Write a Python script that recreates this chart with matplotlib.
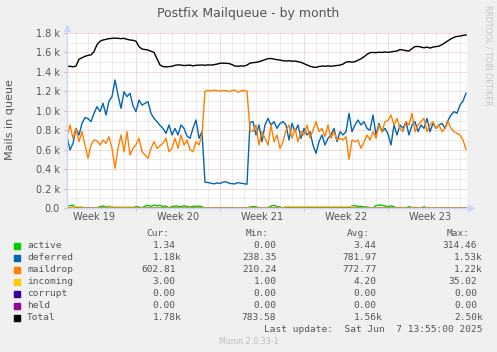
import numpy as np
import matplotlib.pyplot as plt
from matplotlib.patches import Rectangle

# =========================================================
# DATA  (one reading every 6 hours, month view)
# =========================================================

deferred = [
    734, 597, 665, 819, 751, 871, 930, 920, 888, 974,
    1042, 991, 1077, 957, 1100, 1145, 1317, 1162, 1025, 1197,
    1145, 1180, 1050, 991, 1111, 1059, 1077, 1094, 974, 922,
    888, 850, 819, 768, 854, 751, 819, 751, 854, 819,
    740, 717, 820, 905, 717, 785,
    265, 262, 255, 248, 258, 252, 266, 270, 255, 250,
    248, 262, 255, 250, 245, 880,
    888, 751, 854, 682, 854, 922, 854, 888, 819, 870,
    888, 854, 699, 871, 785, 854, 717, 819, 751, 785,
    648, 562, 682, 751, 648, 717, 751, 819, 682, 785,
    751, 785, 974, 785, 854, 905, 854, 888, 819, 800,
    957, 751, 871, 785, 819, 760, 648, 854, 751, 854,
    819, 888, 751, 854, 888, 785, 854, 819, 922, 785,
    871, 819, 854, 871, 819, 900, 957, 991, 974, 1059,
    1100, 1180,
]

maildrop = [
    734, 854, 717, 819, 682, 785, 648, 511, 648, 700,
    690, 648, 699, 665, 734, 614, 408, 614, 751, 579,
    785, 545, 614, 650, 717, 579, 545, 511, 614, 682,
    614, 640, 665, 717, 579, 614, 717, 614, 751, 648,
    699, 600, 579, 682, 648, 751,
    1200, 1210, 1205, 1212, 1208, 1203, 1210, 1207, 1195, 1210,
    1212, 1190, 1205, 1210, 1200, 800,
    785, 854, 648, 785, 717, 648, 854, 682, 751, 614,
    682, 800, 854, 717, 819, 682, 785, 751, 854, 717,
    800, 888, 785, 819, 734, 854, 717, 785, 699, 717,
    699, 734, 500, 699, 682, 699, 614, 680, 751, 699,
    785, 717, 854, 785, 888, 900, 957, 854, 922, 819,
    785, 888, 854, 974, 785, 854, 888, 922, 785, 854,
    888, 819, 854, 785, 819, 888, 819, 785, 768, 751,
    699, 603,
]

total = [
    1455, 1458, 1452, 1460,
    1530, 1545, 1560, 1570, 1575, 1608, 1680, 1715, 1728, 1735,
    1742, 1745, 1748, 1745, 1742, 1745, 1735, 1728, 1725, 1715,
    1660, 1635, 1630, 1625, 1612, 1600, 1536, 1471, 1455, 1452,
    1454, 1458, 1468, 1472, 1470, 1465, 1467, 1470, 1462, 1468,
    1470, 1471,
    1468, 1472, 1470, 1474, 1480, 1488, 1490, 1488, 1486, 1475,
    1460, 1458, 1462, 1460, 1470, 1490,
    1495, 1498, 1505, 1515, 1525, 1536, 1538, 1532, 1525, 1522,
    1515, 1512, 1515, 1510, 1512, 1505, 1498, 1485, 1472, 1458,
    1450, 1446, 1455, 1460, 1458, 1462, 1458, 1462, 1465, 1470,
    1480, 1500,
    1505, 1500, 1505, 1520, 1535, 1555, 1580, 1598, 1600, 1598,
    1602, 1600, 1605, 1600, 1606, 1610, 1615, 1630, 1625, 1618,
    1615, 1640, 1660, 1662, 1655, 1648, 1655, 1645, 1655, 1660,
    1665, 1680, 1700, 1720, 1740, 1755, 1765, 1768, 1775, 1780,
]

active = [
    2, 25, 30, 3, 1, 0, 0, 1, 0, 2,
    1, 15, 20, 10, 18, 12, 2, 0, 1, 0,
    0, 1, 2, 15, 10, 2, 20, 25, 18, 30,
    22, 28, 15, 20, 3, 15, 20, 18, 12, 25,
    15, 10, 18, 15, 20, 12, 1, 0, 0, 1,
    0, 0, 2, 1, 0, 0, 1, 0, 0, 2,
    1, 10, 15, 12, 3, 1, 0, 2, 20, 28,
    15, 10, 1, 15, 2, 0, 0, 1, 0, 0,
    2, 1, 0, 0, 1, 0, 0, 2, 0, 1,
    0, 0, 1, 0, 2, 20, 25, 15, 18, 10,
    12, 2, 1, 25, 30, 28, 20, 15, 22, 12,
    2, 1, 0, 1, 15, 2, 0, 1, 0, 12,
    2, 0, 1, 0, 0, 2, 1, 0, 0, 1,
    0, 2, 1, 1,
]

incoming = [
    3, 12, 12, 12, 12, 12, 3, 3, 2, 3,
    3, 3, 3, 3, 10, 10, 10, 10, 10, 10,
    10, 10, 10, 3, 3, 2, 3, 3, 3, 3,
    3, 3, 3, 3, 3, 3, 3, 3, 3, 3,
    3, 3, 3, 3, 3, 3, 2, 2, 2, 2,
    2, 2, 2, 2, 2, 2, 2, 2, 2, 2,
    2, 3, 3, 3, 3, 3, 3, 3, 3, 3,
    3, 3, 3, 14, 14, 14, 14, 14, 14, 14,
    14, 14, 14, 14, 14, 14, 14, 14, 14, 14,
    14, 14, 14, 14, 14, 14, 3, 3, 3, 3,
    3, 3, 3, 3, 3, 3, 3, 3, 3, 3,
    3, 10, 3, 3, 3, 3, 10, 3, 3, 3,
    3, 3, 3, 3, 3, 3, 3, 3, 3, 3,
    3, 3, 3, 3,
]

corrupt = [0] * 134
held = [0] * 134

week_labels = ["Week 19", "Week 20", "Week 21", "Week 22", "Week 23"]
week_mid_days = [2.25, 9.25, 16.25, 23.25, 30.25]
week_start_days = [5.75, 12.75, 19.75, 26.75]

names = ["active", "deferred", "maildrop", "incoming", "corrupt", "held", "Total"]
colors = ["#00CC00", "#0066B3", "#FF8000", "#FFCC00", "#330099", "#990099", "#000000"]
cur_vals = ["1.34", "1.18k", "602.81", "3.00", "0.00", "0.00", "1.78k"]
min_vals = ["0.00", "238.35", "210.24", "1.00", "0.00", "0.00", "783.58"]
avg_vals = ["3.44", "781.97", "772.77", "4.20", "0.00", "0.00", "1.56k"]
max_vals = ["314.46", "1.53k", "1.22k", "35.02", "0.00", "0.00", "2.50k"]

series = [active, deferred, maildrop, incoming, corrupt, held, total]

# =========================================================
# FIGURE
# =========================================================

W, H = 497, 352
FONT = "#555555"
GRID = "#dadada"
MGRID = "#f2b4b4"
AXIS = "#CFD6F8"


def fx(px):
    return px / W


def fy(py):
    return 1 - py / H


fig = plt.figure(figsize=(W / 100, H / 100), dpi=100, facecolor="#F0F0F0")
ax = fig.add_axes([fx(67), fy(208), 400 / W, 175 / H])
ax.set_facecolor("white")
ax.set_xlim(0, 400 / 12)
ax.set_ylim(0, 1800)

# grid
for d in np.arange(0.75, 33.4, 1.0):
    if d not in week_start_days:
        ax.axvline(d, color=GRID, lw=0.72, ls=(0, (1, 1)), zorder=0)
for d in week_start_days:
    ax.axvline(d, color=MGRID, lw=0.72, ls=(0, (1, 1)), zorder=0)
for v in range(100, 1800, 200):
    ax.axhline(v, color=GRID, lw=0.72, ls=(0, (1, 1)), zorder=0)
for v in range(200, 1801, 200):
    ax.axhline(v, color=MGRID, lw=0.72, ls=(0, (1, 1)), zorder=0)

# lines
for vals, col in zip(series, colors):
    days = np.arange(len(vals)) * 0.25
    ax.plot(days, vals, color=col, lw=1.0, zorder=2)

# axes look
for side in ["top", "right"]:
    ax.spines[side].set_visible(False)
for side in ["left", "bottom"]:
    ax.spines[side].set_color(AXIS)
    ax.spines[side].set_linewidth(1.0)
ax.plot(0, 1.026, marker="^", color=AXIS, ms=4, transform=ax.transAxes, clip_on=False)
ax.plot(1.009, 0, marker=">", color=AXIS, ms=4, transform=ax.transAxes, clip_on=False)

yt = np.arange(0, 1801, 200)
ax.set_yticks(yt)
ax.set_yticklabels(["0.0"] + ["%.1f k" % (v / 1000) for v in yt[1:]])
ax.tick_params(axis="y", length=2, color="#bbbbbb", labelsize=7, labelcolor=FONT, pad=3)
ax.set_xticks(week_mid_days)
ax.set_xticklabels(week_labels)
ax.set_xticks(week_start_days, minor=True)
ax.tick_params(axis="x", which="major", length=0, labelsize=7, labelcolor=FONT, pad=3)
ax.tick_params(axis="x", which="minor", length=2, color=MGRID)

# =========================================================
# TEXT
# =========================================================

fig.text(fx(248), fy(13), "Postfix Mailqueue - by month", ha="center", va="center",
         fontsize=9, color=FONT)
fig.text(fx(10), fy(120), "Mails in queue", rotation=90, ha="center", va="center",
         fontsize=8, color=FONT)
fig.text(fx(488), fy(5), "RRDTOOL / TOBI OETIKER", rotation=270, ha="center", va="top",
         fontsize=5.7, color="#c4c4c4")

mono = dict(family="DejaVu Sans Mono", fontsize=6.8, color=FONT, va="center")
cw = 5.67

for hx, htxt in zip([146, 246, 347, 447], ["Cur:", "Min:", "Avg:", "Max:"]):
    fig.text(fx(hx), fy(233), htxt, ha="left", **mono)

col_edges = [181.5, 282, 382.5, 483]
for i, name in enumerate(names):
    ry = 245.7 + 12 * i
    fig.patches.append(Rectangle((fx(14), fy(ry + 3)), 6 / W, 6 / H,
                                 transform=fig.transFigure, color=colors[i]))
    fig.text(fx(27), fy(ry), name, ha="left", **mono)
    for edge, col in zip(col_edges, [cur_vals, min_vals, avg_vals, max_vals]):
        s = col[i]
        xr = edge if s.endswith("k") else edge - cw
        fig.text(fx(xr), fy(ry), s, ha="right", **mono)

fig.text(fx(483), fy(329.7), "Last update:  Sat Jun  7 13:55:00 2025", ha="right", **mono)
fig.text(fx(249), fy(341.7), "Munin 2.0.33-1", ha="center", va="center",
         fontsize=5.8, color="#bbbbbb")

fig.savefig("out.png", dpi=100, facecolor=fig.get_facecolor())
